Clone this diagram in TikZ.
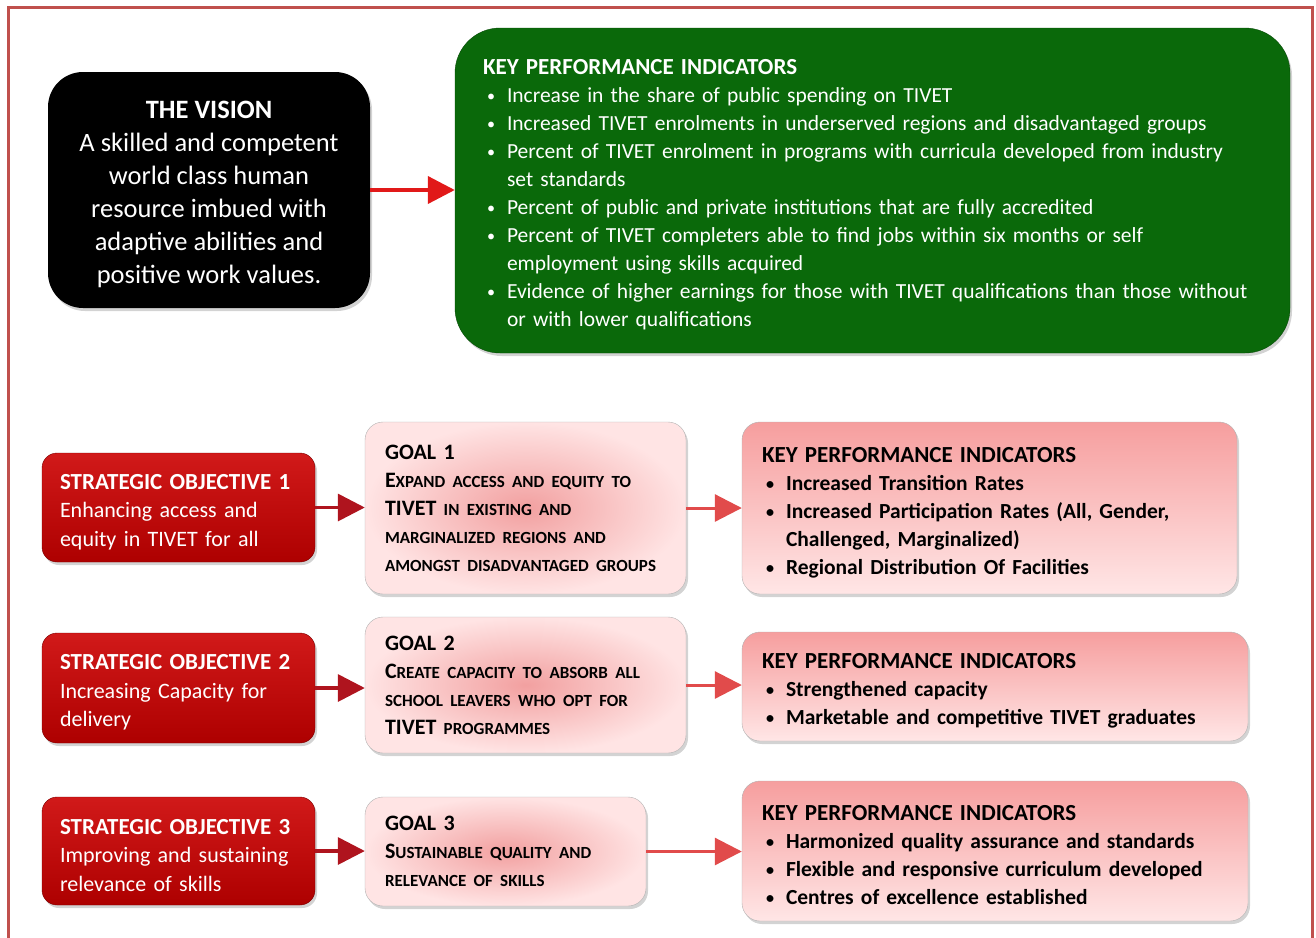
\documentclass[tikz,border=0pt]{standalone}
\usepackage{fontspec}
\setmainfont{Carlito}
\usetikzlibrary{arrows.meta,shadows,calc}

\definecolor{framered}{RGB}{192,80,77}
\definecolor{visgreen}{RGB}{10,105,10}
\definecolor{sored}{RGB}{204,0,0}
\definecolor{arrowred}{RGB}{225,25,25}
\definecolor{darkarrow}{RGB}{175,20,30}
\definecolor{lightarrow}{RGB}{225,75,75}

\newcommand{\kbul}{\hspace*{4pt}\makebox[20pt][l]{\raisebox{1pt}{\scalebox{0.75}{\textbullet}}}}
\newcommand{\kind}{\hspace*{24pt}}
\newcommand{\smc}[1]{{\fontsize{17}{28}\selectfont #1}}
\newcommand{\ktitle}[1]{\rule{0pt}{24pt}{\fontsize{23}{28}\selectfont\bfseries #1}}

\begin{document}
\begin{tikzpicture}[x=1pt,y=-1pt]

        \tikzstyle{basebox} = [inner ysep=0pt, drop shadow={shadow xshift=2pt, shadow yshift=-3pt, opacity=0.35}]
        \tikzstyle{visionbox} = [basebox, fill=black, text=white, rounded corners=35pt, minimum width=322pt, minimum height=236pt, align=center, font=\fontsize{26.5}{33}\selectfont]
        \tikzstyle{greenbox} = [basebox, fill=visgreen, draw=visgreen!70!black, text=white, rounded corners=45pt, minimum width=835pt, text width=779pt, inner xsep=28pt, minimum height=325pt, align=left, font=\fontsize{21.5}{28}\selectfont]
        \tikzstyle{sobox} = [basebox, top color=sored!90!white, bottom color=sored!85!black, draw=sored!60!black, text=white, rounded corners=15pt, minimum width=273pt, text width=237pt, inner xsep=18pt, align=left, font=\fontsize{22}{28.5}\selectfont]
        \tikzstyle{goalbox} = [basebox, inner color={rgb,255:red,242;green,160;blue,160}, outer color={rgb,255:red,255;green,228;blue,228}, draw=gray!60, text=black, rounded corners=18pt, inner xsep=20pt, align=left, font=\fontsize{22}{28}\selectfont\bfseries]
        \tikzstyle{kpibox} = [basebox, top color={rgb,255:red,246;green,158;blue,158}, bottom color={rgb,255:red,255;green,230;blue,230}, draw=gray!60, text=black, rounded corners=18pt, inner xsep=20pt, align=left, font=\fontsize{21.5}{28}\selectfont\bfseries]
        \tikzstyle{visarrow} = [draw=arrowred, line width=4pt, -{Triangle[length=27pt,width=27pt]}]
        \tikzstyle{soarrow} = [draw=darkarrow, line width=3.5pt, -{Triangle[length=27pt,width=27pt]}]
        \tikzstyle{goalarrow} = [draw=lightarrow, line width=3pt, -{Triangle[length=27pt,width=27pt]}]

        \useasboundingbox (0,0) rectangle (1316,937);
        \draw [framered, line width=3pt] (8,940) -- (8,7) -- (1312,7) -- (1312,940);

        %% vision and its indicators
        \node [visionbox](vision) at (209,190) {\rule{0pt}{27pt}\textbf{THE VISION}\\A skilled and competent\\world class human\\resource imbued with\\adaptive abilities and\\positive work values.};
        \node [greenbox](k0) at (872.5,190.5) {\ktitle{KEY PERFORMANCE INDICATORS}\\
                \kbul Increase in the share of public spending on TIVET\\
                \kbul Increased TIVET enrolments in underserved regions and disadvantaged groups\\
                \kbul Percent of TIVET enrolment in programs with curricula developed from industry\\
                \kind set standards\\
                \kbul Percent of public and private institutions that are fully accredited\\
                \kbul Percent of TIVET completers able to find jobs within six months or self\\
                \kind employment using skills acquired\\
                \kbul Evidence of higher earnings for those with TIVET qualifications than those without\\
                \kind or with lower qualifications};

        %% strategic objectives
        \node [sobox, minimum height=109pt](so1) at (178.5,507.5) {\ktitle{STRATEGIC OBJECTIVE 1}\\Enhancing access and\\equity in TIVET for all};
        \node [sobox, minimum height=110pt](so2) at (178.5,688) {\ktitle{STRATEGIC OBJECTIVE 2}\\Increasing Capacity for\\delivery};
        \node [sobox, minimum height=108pt](so3) at (178.5,851) {\ktitle{STRATEGIC OBJECTIVE 3}\\Improving and sustaining\\relevance of skills};

        %% goals
        \node [goalbox, minimum width=321pt, text width=281pt, minimum height=172pt](g1) at (525.5,508) {GOAL 1\\E\smc{XPAND ACCESS AND EQUITY TO}\\TIVET \smc{IN EXISTING AND}\\\smc{MARGINALIZED REGIONS AND}\\\smc{AMONGST DISADVANTAGED GROUPS}};
        \node [goalbox, minimum width=321pt, text width=281pt, minimum height=136pt](g2) at (525.5,685) {GOAL 2\\C\smc{REATE CAPACITY TO ABSORB ALL}\\\smc{SCHOOL LEAVERS WHO OPT FOR}\\TIVET \smc{PROGRAMMES}};
        \node [goalbox, minimum width=281pt, text width=241pt, minimum height=109pt](g3) at (505.5,851.5) {GOAL 3\\S\smc{USTAINABLE QUALITY AND}\\\smc{RELEVANCE OF SKILLS}};

        %% indicators per goal
        \node [kpibox, minimum width=495pt, text width=455pt, minimum height=172pt](k1) at (989.5,508) {\ktitle{KEY PERFORMANCE INDICATORS}\\
                \kbul Increased Transition Rates\\
                \kbul Increased Participation Rates (All, Gender,\\
                \kind Challenged, Marginalized)\\
                \kbul Regional Distribution Of Facilities};
        \node [kpibox, minimum width=506pt, text width=466pt, minimum height=109pt](k2) at (995,686.5) {\ktitle{KEY PERFORMANCE INDICATORS}\\
                \kbul Strengthened capacity\\
                \kbul Marketable and competitive TIVET graduates};
        \node [kpibox, minimum width=506pt, text width=466pt, minimum height=140pt](k3) at (995,851) {\ktitle{KEY PERFORMANCE INDICATORS}\\
                \kbul Harmonized quality assurance and standards\\
                \kbul Flexible and responsive curriculum developed\\
                \kbul Centres of excellence established};

        \draw [visarrow] (vision.east) -- (vision.east -| k0.west);
        \foreach \i in {1,2,3}{
                \draw [soarrow] (so\i.east) -- (so\i.east -| g\i.west);
                \draw [goalarrow] (g\i.east) -- (g\i.east -| k\i.west);
        }
\end{tikzpicture}
\end{document}
